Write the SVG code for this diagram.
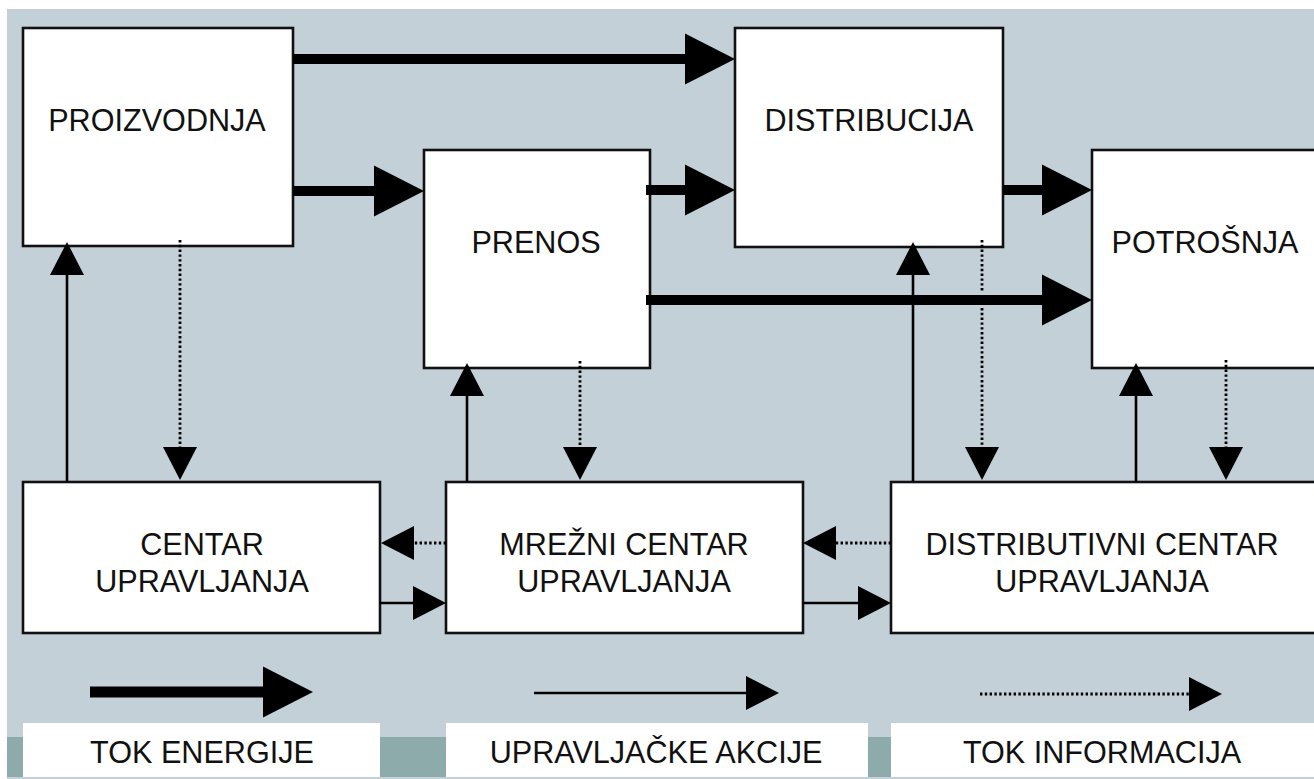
<svg xmlns="http://www.w3.org/2000/svg" width="1314" height="779" viewBox="0 0 1314 779">
  <defs>
    <style>
      .node { fill: #ffffff; stroke: #111111; stroke-width: 2.6; }
      .lbl { font-family: "Liberation Sans", Arial, sans-serif; font-size: 30.6px; fill: #111111; text-anchor: middle; }
      .energy { fill: none; stroke: #000000; stroke-width: 10; }
      .control { fill: none; stroke: #000000; stroke-width: 2.6; }
      .info { fill: none; stroke: #000000; stroke-width: 2.8; stroke-dasharray: 2.4 2.4; }
      .legend-box { fill: #ffffff; }
    </style>
    <!-- heads start at the line end and reach forward to the tip -->
    <marker id="head-energy" markerUnits="userSpaceOnUse" markerWidth="52" markerHeight="53" refX="0" refY="25.5" orient="auto" overflow="visible">
      <path d="M0,0 L50,25.5 L0,51 Z" fill="#000000"/>
    </marker>
    <marker id="head-thin" markerUnits="userSpaceOnUse" markerWidth="36" markerHeight="36" refX="0" refY="17" orient="auto" overflow="visible">
      <path d="M0,0 L33,17 L0,34 Z" fill="#000000"/>
    </marker>
  </defs>

  <!-- backdrop -->
  <rect x="0" y="0" width="1314" height="779" fill="#ffffff"/>
  <rect x="7" y="9" width="1307" height="770" fill="#c3d0d8"/>
  <rect x="7" y="737" width="1307" height="40" fill="#8eabab"/>

  <!-- nodes -->
  <g id="proizvodnja">
    <rect class="node" x="23" y="28" width="270" height="218"/>
    <text class="lbl" x="157" y="131">PROIZVODNJA</text>
  </g>
  <g id="prenos">
    <rect class="node" x="424" y="150" width="226" height="218"/>
    <text class="lbl" x="536" y="253">PRENOS</text>
  </g>
  <g id="distribucija">
    <rect class="node" x="735" y="28" width="268" height="219"/>
    <text class="lbl" x="869" y="131">DISTRIBUCIJA</text>
  </g>
  <g id="potrosnja">
    <rect class="node" x="1092" y="150" width="240" height="218"/>
    <text class="lbl" x="1205" y="253">POTROŠNJA</text>
  </g>
  <g id="centar-upravljanja">
    <rect class="node" x="23" y="482" width="357" height="151"/>
    <text class="lbl" x="202" y="555">CENTAR</text>
    <text class="lbl" x="202" y="592">UPRAVLJANJA</text>
  </g>
  <g id="mrezni-centar">
    <rect class="node" x="446" y="482" width="357" height="151"/>
    <text class="lbl" x="624" y="555">MREŽNI CENTAR</text>
    <text class="lbl" x="624" y="592">UPRAVLJANJA</text>
  </g>
  <g id="distributivni-centar">
    <rect class="node" x="891" y="482" width="440" height="151"/>
    <text class="lbl" x="1102" y="555">DISTRIBUTIVNI CENTAR</text>
    <text class="lbl" x="1102" y="592">UPRAVLJANJA</text>
  </g>

  <!-- connectors -->
  <g id="connectors">
    <!-- energy flow -->
    <path class="energy" d="M293,59 H685" marker-end="url(#head-energy)"/>
    <path class="energy" d="M293,191 H374" marker-end="url(#head-energy)"/>
    <path class="energy" d="M646,190 H685" marker-end="url(#head-energy)"/>
    <path class="energy" d="M1003,190 H1042" marker-end="url(#head-energy)"/>
    <path class="energy" d="M646,300 H1042" marker-end="url(#head-energy)"/>

    <!-- control actions -->
    <path class="control" d="M67,482 V275" marker-end="url(#head-thin)"/>
    <path class="control" d="M467,482 V396" marker-end="url(#head-thin)"/>
    <path class="control" d="M913,482 V275" marker-end="url(#head-thin)"/>
    <path class="control" d="M1136,482 V396" marker-end="url(#head-thin)"/>
    <path class="control" d="M380,603 H413" marker-end="url(#head-thin)"/>
    <path class="control" d="M803,603 H858" marker-end="url(#head-thin)"/>

    <!-- information flow -->
    <path class="info" d="M180,240 V447" marker-end="url(#head-thin)"/>
    <path class="info" d="M580,361 V447" marker-end="url(#head-thin)"/>
    <path class="info" d="M982,240 V292"/>
    <path class="info" d="M982,308 V447" marker-end="url(#head-thin)"/>
    <path class="info" d="M1226,360 V447" marker-end="url(#head-thin)"/>
    <path class="info" d="M446,543 H414" marker-end="url(#head-thin)"/>
    <path class="info" d="M891,543 H836" marker-end="url(#head-thin)"/>
  </g>

  <!-- legend -->
  <g id="legend">
    <rect class="legend-box" x="23" y="723" width="357" height="54"/>
    <rect class="legend-box" x="446" y="723" width="422" height="54"/>
    <rect class="legend-box" x="891" y="723" width="423" height="54"/>
    <path class="energy" d="M90,692 H263" marker-end="url(#head-energy)" style="stroke-width:11"/>
    <path class="control" d="M534,693 H746" marker-end="url(#head-thin)"/>
    <path class="info" d="M980,694 H1189" marker-end="url(#head-thin)"/>
    <text class="lbl" x="202" y="763">TOK ENERGIJE</text>
    <text class="lbl" x="656" y="763">UPRAVLJAČKE AKCIJE</text>
    <text class="lbl" x="1102" y="763">TOK INFORMACIJA</text>
  </g>
</svg>
